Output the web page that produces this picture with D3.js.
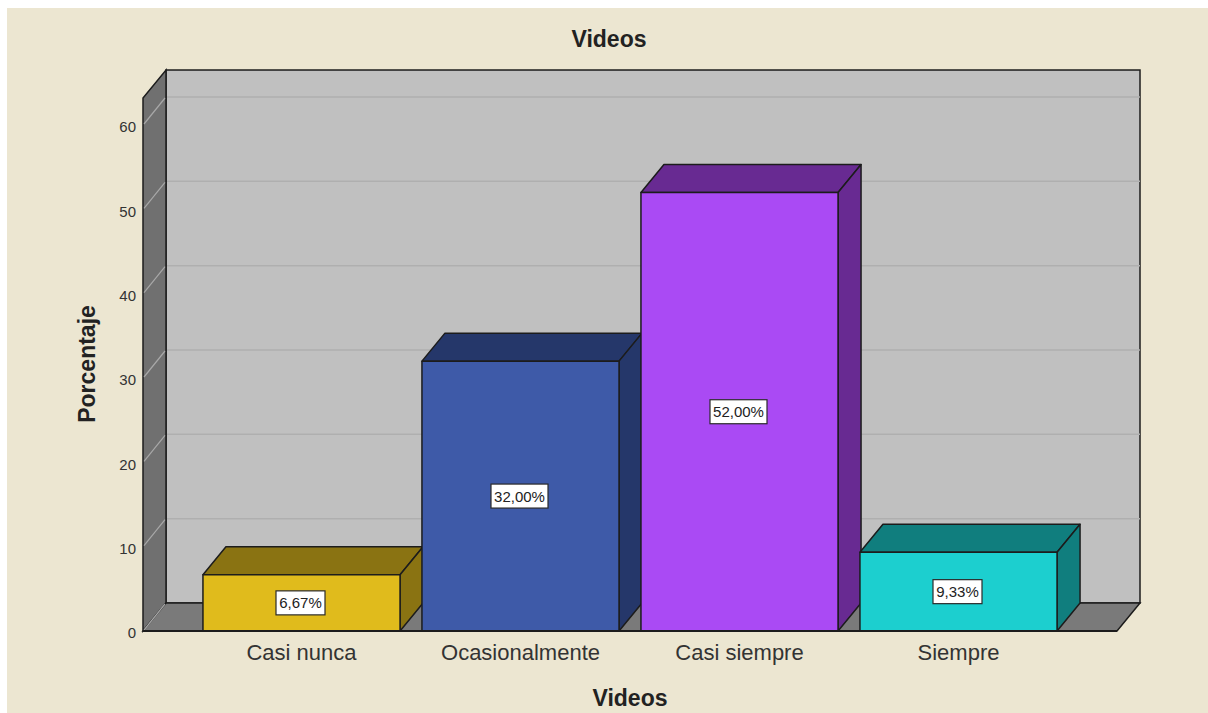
<!DOCTYPE html>
<html>
<head>
<meta charset="utf-8">
<script src="https://cdn.jsdelivr.net/npm/d3@7"></script>
<style>
html, body { margin: 0; padding: 0; background: #fff; overflow: hidden; }
svg { display: block; }
text { font-family: "Liberation Sans", Arial, sans-serif; fill: #222; }
</style>
</head>
<body>
<svg width="1208" height="713"></svg>
<script>
var categories = ["Casi nunca", "Ocasionalmente", "Casi siempre", "Siempre"];
var values = [6.67, 32, 52, 9.33];
var valueLabels = ["6,67%", "32,00%", "52,00%", "9,33%"];
var frontColors = ["#e0bb1c", "#3e5aa8", "#aa4af4", "#1ccfcf"];
var sideColors = ["#8a7312", "#25376a", "#682a92", "#107e7e"];
var yTicks = [0, 10, 20, 30, 40, 50, 60];
var yMax = 63.2;

var svg = d3.select("svg");

var depthX = 23, depthY = -28;   // offset of the back wall
var left = 143, right = 1117, bottom = 631;

var xScale = d3.scaleBand()
    .domain(categories)
    .range([192, 1068])
    .paddingInner(0.1)
    .paddingOuter(0.05);

var yScale = d3.scaleLinear()
    .domain([0, 60])
    .range([bottom, 125]);

var wallTop = yScale(yMax);
var edge = "#1c1c1c";

function poly(points) {
    return d3.line()(points) + "Z";
}

// background
svg.append("rect").attr("x", 7).attr("y", 8).attr("width", 1201).attr("height", 705).attr("fill", "#ece6d1");

// back wall
svg.append("rect")
    .attr("x", left + depthX).attr("y", wallTop + depthY)
    .attr("width", right - left).attr("height", bottom - wallTop)
    .attr("fill", "#c0c0c0").attr("stroke", edge).attr("stroke-width", 1.5);

// left wall
svg.append("path")
    .attr("d", poly([[left, bottom], [left, wallTop], [left + depthX, wallTop + depthY], [left + depthX, bottom + depthY]]))
    .attr("fill", "#707070").attr("stroke", edge).attr("stroke-width", 1.5);

// floor
svg.append("path")
    .attr("d", poly([[left, bottom], [left + depthX, bottom + depthY], [right + depthX, bottom + depthY], [right, bottom]]))
    .attr("fill", "#7a7a7a").attr("stroke", edge).attr("stroke-width", 1.5);

// grid lines on back wall and left wall
yTicks.forEach(function(t) {
    if (t > 0) {
        svg.append("line")
            .attr("x1", left + depthX + 1).attr("x2", right + depthX)
            .attr("y1", yScale(t) + depthY).attr("y2", yScale(t) + depthY)
            .attr("stroke", "#afafaf").attr("stroke-width", 1.5);
    }
    svg.append("line")
        .attr("x1", left + 1).attr("x2", left + depthX - 1)
        .attr("y1", yScale(t) - 1).attr("y2", yScale(t) + depthY + 1)
        .attr("stroke", "#a8a8a8").attr("stroke-width", 1.2);
});

// bars
categories.forEach(function(c, i) {
    var x0 = xScale(c), x1 = x0 + xScale.bandwidth();
    var y0 = yScale(values[i]);
    var g = svg.append("g").attr("stroke", edge).attr("stroke-width", 1.5).attr("stroke-linejoin", "round");
    g.append("path")
        .attr("d", poly([[x0, y0], [x0 + depthX, y0 + depthY], [x1 + depthX, y0 + depthY], [x1, y0]]))
        .attr("fill", sideColors[i]);
    g.append("path")
        .attr("d", poly([[x1, y0], [x1 + depthX, y0 + depthY], [x1 + depthX, bottom + depthY], [x1, bottom]]))
        .attr("fill", sideColors[i]);
    g.append("rect")
        .attr("x", x0).attr("y", y0)
        .attr("width", x1 - x0).attr("height", bottom - y0)
        .attr("fill", frontColors[i]);
});

// value labels
categories.forEach(function(c, i) {
    var cx = xScale(c) + xScale.bandwidth() / 2 - 1;
    var cy = yScale(values[i] / 2);
    var w = valueLabels[i].length > 5 ? 57 : 49;
    svg.append("rect")
        .attr("x", cx - w / 2).attr("y", cy - 12)
        .attr("width", w).attr("height", 24)
        .attr("fill", "#fff").attr("stroke", "#2a2a2a").attr("stroke-width", 1.2);
    svg.append("text")
        .attr("x", cx).attr("y", cy + 5.5)
        .attr("text-anchor", "middle").attr("font-size", 15)
        .text(valueLabels[i]);
});

// axes
var yAxis = d3.axisLeft(yScale).tickValues(yTicks).tickSize(0).tickPadding(7);
var gy = svg.append("g").attr("transform", "translate(" + left + ",2)").call(yAxis);
gy.select(".domain").remove();
gy.selectAll("text").attr("font-size", 15).style("font-family", "Liberation Sans").style("fill", "#333");

var xAxis = d3.axisBottom(xScale).tickSize(0).tickPadding(13);
var gx = svg.append("g").attr("transform", "translate(0," + bottom + ")").call(xAxis);
gx.select(".domain").remove();
gx.selectAll("text").attr("font-size", 22).style("font-family", "Liberation Sans").style("fill", "#333");

svg.append("line")
    .attr("x1", left).attr("x2", right).attr("y1", bottom).attr("y2", bottom)
    .attr("stroke", edge).attr("stroke-width", 2);

// titles
svg.append("text").attr("x", 609).attr("y", 47).attr("text-anchor", "middle")
    .attr("font-size", 23).attr("font-weight", "bold").text("Videos");
svg.append("text").attr("x", 630).attr("y", 706).attr("text-anchor", "middle")
    .attr("font-size", 23).attr("font-weight", "bold").text("Videos");
svg.append("text").attr("transform", "translate(95,364) rotate(-90)").attr("text-anchor", "middle")
    .attr("font-size", 23).attr("font-weight", "bold").text("Porcentaje");
</script>
</body>
</html>
